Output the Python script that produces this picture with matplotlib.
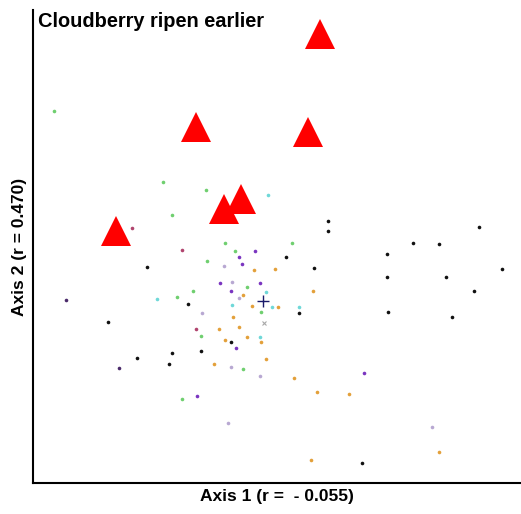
import matplotlib
matplotlib.use('Agg')
import matplotlib.pyplot as plt

plt.rcParams['font.family'] = ['Liberation Sans', 'DejaVu Sans']

# ordination scores (arbitrary units)
tri_x = [287, 163, 275, 208, 191, 83]
tri_y = [449, 356, 351, 284, 274, 252]

centroid = (230, 182)

green_x = [21, 130, 173, 139, 192, 259, 202, 174, 160, 214, 144, 168, 210, 149, 228]
green_y = [372, 301, 293, 268, 240, 240, 232, 222, 192, 196, 186, 147, 114, 84, 171]

cyan_x = [235, 233, 124, 199, 239, 266, 227]
cyan_y = [288, 191, 184, 178, 176, 176, 146]

purple_x = [222, 206, 209, 187, 227, 198, 203, 164, 331]
purple_y = [232, 226, 219, 200, 200, 192, 135, 87, 110]

dkpurple_x = [33, 86]
dkpurple_y = [183, 115]

lilac_x = [191, 199, 206, 169, 198, 227, 399, 195]
lilac_y = [217, 201, 185, 170, 116, 107, 56, 60]

pink_x = [149, 163, 99]
pink_y = [233, 154, 255]

orange_x = [221, 242, 280, 210, 219, 245, 200, 186, 206, 192, 214, 228, 181,
            233, 261, 284, 316, 406, 278]
orange_y = [213, 214, 192, 188, 177, 176, 166, 154, 156, 143, 146, 141, 119,
            124, 105, 91, 89, 31, 23]

black_x = [253, 114, 281, 155, 266, 198, 139, 168, 136, 75, 104, 295, 295, 354,
           354, 355, 380, 406, 446, 413, 441, 469, 419, 329]
black_y = [226, 216, 215, 179, 170, 141, 130, 132, 119, 161, 125, 262, 252, 229,
           206, 171, 240, 239, 256, 206, 192, 214, 166, 20]

fig = plt.figure(figsize=(5.21, 5.14), dpi=100)
ax = fig.add_axes([33 / 521, 31 / 514, 487 / 521, 473 / 514])

dot = dict(marker='o', markersize=2.6, linestyle='none', markeredgewidth=0)
ax.plot(green_x, green_y, color='#6fcf6f', **dot)
ax.plot(cyan_x, cyan_y, color='#6fd8d8', **dot)
ax.plot(purple_x, purple_y, color='#7a35c0', **dot)
ax.plot(dkpurple_x, dkpurple_y, color='#4a2a6a', **dot)
ax.plot(lilac_x, lilac_y, color='#b8a8d2', **dot)
ax.plot(pink_x, pink_y, color='#b0446e', **dot)
ax.plot(orange_x, orange_y, color='#e3a03a', **dot)
ax.plot(black_x, black_y, color='#111111', **dot)
ax.plot(231, 160, marker='x', color='#a8a8a8', markersize=3.5, markeredgewidth=0.8)
ax.plot(*centroid, marker='+', color='#1a1a6a', markersize=8, markeredgewidth=1.0)

ax.plot(tri_x, tri_y, marker='^', color='#ff0000', markersize=22,
        linestyle='none', markeredgewidth=0)

ax.set_xlim(0, 487)
ax.set_ylim(0, 473)
ax.set_xticks([])
ax.set_yticks([])
ax.spines['top'].set_visible(False)
ax.spines['right'].set_visible(False)
ax.spines['left'].set_linewidth(1.5)
ax.spines['bottom'].set_linewidth(1.5)

ax.text(0.01, 0.995, 'Cloudberry ripen earlier', transform=ax.transAxes,
        ha='left', va='top', fontsize=14.4, fontweight='bold')
ax.set_xlabel('Axis 1 (r =  - 0.055)', fontsize=12.5, fontweight='bold', labelpad=4)
ax.set_ylabel('Axis 2 (r = 0.470)', fontsize=12.5, fontweight='bold', labelpad=4)

fig.savefig('out.png', dpi=100)
